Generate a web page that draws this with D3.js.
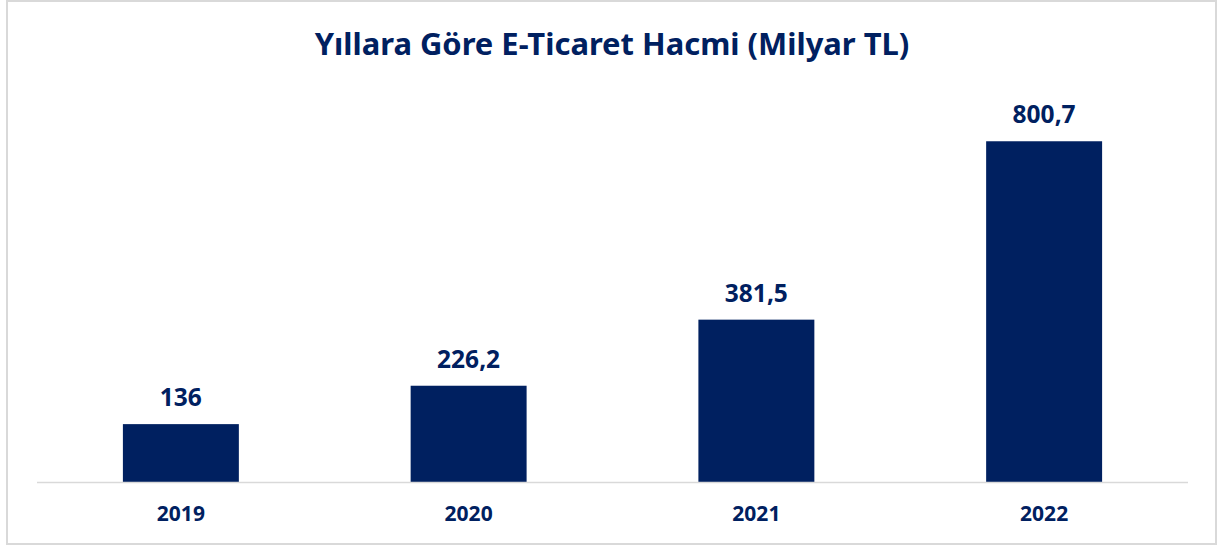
<!DOCTYPE html>
<html>
<head>
<meta charset="utf-8">
<script src="https://cdn.jsdelivr.net/npm/d3@7"></script>
<style>
  html, body { margin: 0; padding: 0; background: #fff; }
  svg { display: block; font-family: "Noto Sans", "Open Sans", sans-serif; }
  .title { text-anchor: middle; font-weight: 700; fill: #002060; }
  .value { text-anchor: middle; font-weight: 700; fill: #002060; font-size: 24.5px; }
  .x.axis text { font-weight: 700; fill: #002060; font-size: 21px; font-family: "Noto Sans", "Open Sans", sans-serif; }
  .x.axis .domain { stroke: #d9d9d9; stroke-width: 1.5px; }
</style>
</head>
<body>
<svg id="chart" width="1225" height="546"></svg>
<script>
// data
const years = ["2019", "2020", "2021", "2022"];
const volumes = [136, 226.2, 381.5, 800.7];
const labels = ["136", "226,2", "381,5", "800,7"];
const chartTitle = "Yıllara Göre E-Ticaret Hacmi (Milyar TL)";

const margin = {top: 99, right: 37, bottom: 63, left: 37};
const W = 1225, H = 546;

const svg = d3.select("#chart");

// outer frame
svg.append("rect")
    .attr("x", 7).attr("y", 1)
    .attr("width", 1209).attr("height", 543)
    .attr("fill", "#fff")
    .attr("stroke", "#d9d9d9")
    .attr("stroke-width", 2);

const title = svg.append("text")
    .attr("class", "title")
    .attr("x", 612)
    .attr("y", 55)
    .style("font-size", "31px")
    .text(chartTitle);
// shrink to roughly the width of the original title
let tw = title.node().getComputedTextLength();
if (tw > 595) title.style("font-size", (31 * 595 / tw) + "px");

const x = d3.scaleBand()
    .domain(years)
    .range([margin.left, W - margin.right])
    .paddingInner(0.597)
    .paddingOuter(0.2985);

const y = d3.scaleLinear()
    .domain([0, 900])
    .range([H - margin.bottom - 1, margin.top]);

const g = svg.append("g");

g.selectAll("rect.bar")
    .data(volumes)
    .enter()
    .append("rect")
        .attr("class", "bar")
        .attr("x", (d, i) => x(years[i]))
        .attr("y", d => y(d))
        .attr("width", x.bandwidth())
        .attr("height", d => y(0) - y(d))
        .attr("fill", "#002060");

g.selectAll("text.value")
    .data(volumes)
    .enter()
    .append("text")
        .attr("class", "value")
        .attr("x", (d, i) => x(years[i]) + x.bandwidth() / 2)
        .attr("y", d => y(d) - 18)
        .text((d, i) => labels[i]);

const axis = svg.append("g")
    .attr("class", "x axis")
    .attr("transform", "translate(0," + (y(0) + 0.5) + ")")
    .call(d3.axisBottom(x).tickSize(0).tickPadding(24));
axis.selectAll(".tick line").remove();
axis.selectAll(".tick text").attr("font-family", null).attr("font-size", null);
axis.attr("font-family", null).attr("font-size", null);
axis.select(".domain").attr("d", "M" + margin.left + ",0H" + (W - margin.right));
</script>
</body>
</html>
